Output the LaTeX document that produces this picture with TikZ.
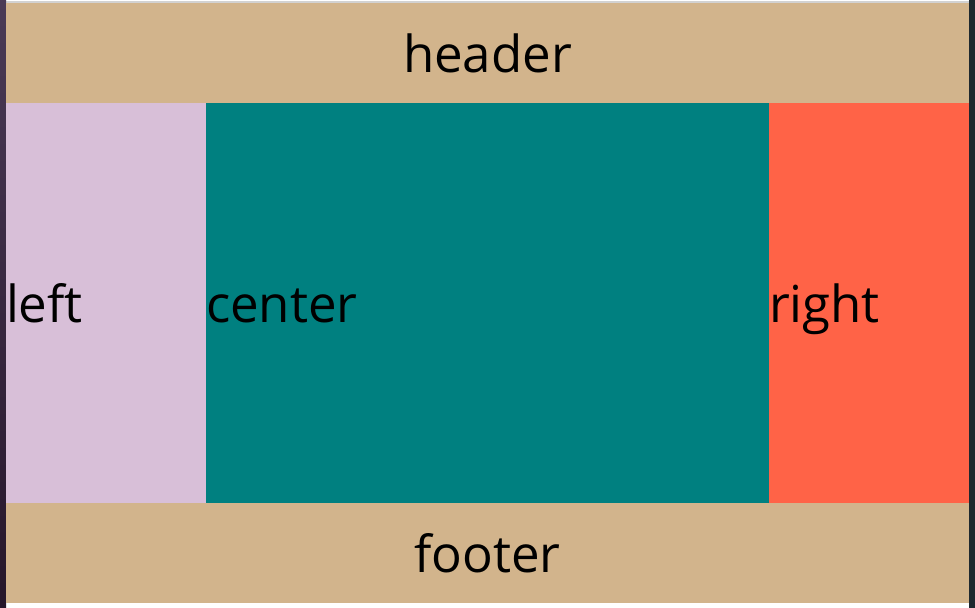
\documentclass[tikz,border=0pt]{standalone}
\usepackage{fontspec}
\setmainfont{Open Sans}
\usetikzlibrary{positioning}
\definecolor{tanbg}{RGB}{210,180,140}
\definecolor{thistlebg}{RGB}{216,191,216}
\definecolor{tealbg}{RGB}{0,128,128}
\definecolor{tomatobg}{RGB}{255,99,71}
\definecolor{darkleft}{RGB}{74,58,86}
\definecolor{darkleftb}{RGB}{38,22,42}
\definecolor{darkright}{RGB}{30,40,46}
\definecolor{topline}{RGB}{210,210,210}

\begin{document}
\begin{tikzpicture}[x=1pt, y=1pt]
      \tikzstyle{block}=[rectangle, inner sep=0pt, outer sep=0pt, minimum height=100pt, text height=45pt, text depth=5pt, font=\fontsize{51}{60}\selectfont]
      \tikzstyle{wide}=[block, minimum width=963pt, text width=963pt, align=center]
      \tikzstyle{column}=[block, minimum height=400pt, align=left]

      \useasboundingbox (0,0) rectangle (975,608);
      \fill[white] (0,0) rectangle (975,608);
      \fill[topline] (6,605) rectangle (975,606.5);
      \shade[top color=darkleft, bottom color=darkleftb] (0,0) rectangle (6,608);
      \fill[darkright] (969,0) rectangle (975,608);

      \node[wide, fill=tanbg, anchor=north west] (header) at (6,605) {header};
      \node[column, fill=thistlebg, text width=200pt, anchor=north west] (left) at (header.south west) {left};
      \node[column, fill=tealbg, text width=563pt, right=0pt of left] (center) {center};
      \node[column, fill=tomatobg, text width=200pt, right=0pt of center] (right) {right};
      \node[wide, fill=tanbg, anchor=north west] (footer) at (left.south west) {footer};
    \end{tikzpicture}
\end{document}
